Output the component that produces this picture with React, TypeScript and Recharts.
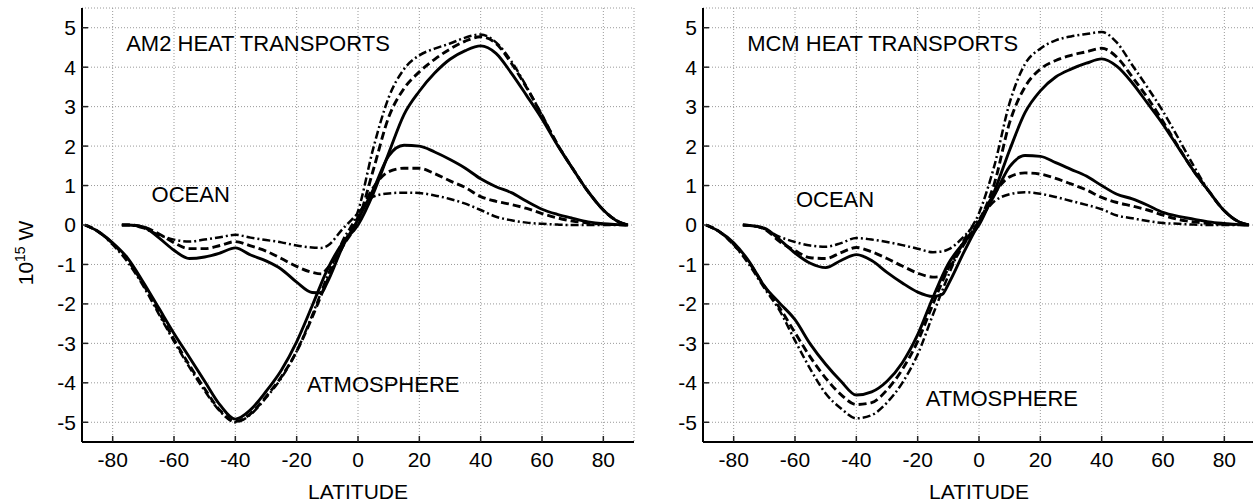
import React from 'react';
import { LineChart, Line, XAxis, YAxis, CartesianGrid, ReferenceDot } from 'recharts';

const FONT = '"Liberation Sans", Arial, Helvetica, sans-serif';

const xTicks = [-80, -60, -40, -20, 0, 20, 40, 60, 80];
const yTicks = [-5, -4, -3, -2, -1, 0, 1, 2, 3, 4, 5];

// latitudes (deg) the curves were read at
const atmLat = [-89, -85, -80, -75, -70, -65, -60, -55, -50, -45, -40, -35, -30, -25, -20, -15, -10, -5, 0, 5, 10, 15, 20, 25, 30, 35, 40, 45, 50, 55, 60, 65, 70, 75, 80, 85, 88];
const oceanLat = [-77, -75, -70, -65, -60, -55, -50, -45, -40, -35, -30, -25, -20, -15, -12, -10, -5, 0, 5, 10, 15, 20, 25, 30, 35, 40, 45, 50, 55, 60, 65, 70, 75, 80, 85, 88];

// AM2 panel, 10^15 W
const am2AtmSolid = [0, -0.15, -0.45, -0.85, -1.45, -2.1, -2.75, -3.35, -3.96, -4.56, -4.92, -4.68, -4.22, -3.68, -2.96, -2.06, -1.13, -0.45, 0, 0.8, 1.82, 2.8, 3.39, 3.85, 4.2, 4.42, 4.54, 4.35, 3.85, 3.28, 2.69, 2.03, 1.43, 0.85, 0.38, 0.08, 0];
const am2AtmDashed = [0, -0.15, -0.47, -0.9, -1.5, -2.2, -2.9, -3.55, -4.15, -4.7, -4.98, -4.78, -4.35, -3.85, -3.2, -2.35, -1.4, -0.55, 0.1, 1.4, 2.73, 3.46, 3.88, 4.2, 4.46, 4.66, 4.77, 4.6, 4.1, 3.48, 2.78, 2.05, 1.43, 0.85, 0.38, 0.08, 0];
const am2AtmDashDot = [0, -0.15, -0.5, -0.95, -1.55, -2.25, -2.95, -3.6, -4.2, -4.72, -5.0, -4.8, -4.38, -3.88, -3.2, -2.3, -1.3, -0.4, 0.35, 1.95, 3.23, 3.95, 4.3, 4.47, 4.6, 4.75, 4.83, 4.63, 4.15, 3.5, 2.78, 2.05, 1.43, 0.85, 0.38, 0.08, 0];
const am2OcnSolid = [0, 0, -0.05, -0.32, -0.64, -0.85, -0.81, -0.71, -0.58, -0.76, -0.91, -1.12, -1.45, -1.71, -1.72, -1.45, -0.55, 0.14, 0.9, 1.75, 2.02, 2.0, 1.85, 1.66, 1.44, 1.17, 0.97, 0.82, 0.6, 0.4, 0.27, 0.17, 0.08, 0.03, 0.01, 0];
const am2OcnDashed = [0, 0, -0.05, -0.22, -0.45, -0.6, -0.6, -0.52, -0.42, -0.53, -0.66, -0.85, -1.05, -1.2, -1.24, -1.1, -0.5, 0.2, 0.95, 1.35, 1.44, 1.44, 1.3, 1.12, 0.95, 0.72, 0.6, 0.52, 0.42, 0.29, 0.18, 0.1, 0.05, 0.02, 0.01, 0];
const am2OcnDashDot = [0, 0, -0.08, -0.25, -0.37, -0.42, -0.37, -0.31, -0.25, -0.32, -0.38, -0.44, -0.52, -0.57, -0.58, -0.53, -0.1, 0.3, 0.72, 0.8, 0.82, 0.81, 0.75, 0.66, 0.54, 0.38, 0.21, 0.12, 0.06, 0.03, 0.01, 0, 0, 0, 0, 0];

// MCM panel, 10^15 W
const mcmAtmSolid = [0, -0.15, -0.45, -0.92, -1.55, -1.98, -2.4, -3.02, -3.53, -3.96, -4.31, -4.23, -3.96, -3.49, -2.78, -1.83, -0.98, -0.45, 0, 0.85, 1.9, 2.85, 3.4, 3.75, 3.95, 4.1, 4.21, 4.02, 3.6, 3.08, 2.55, 1.96, 1.37, 0.85, 0.36, 0.07, 0];
const mcmAtmDashed = [0, -0.15, -0.5, -0.95, -1.55, -2.1, -2.73, -3.35, -3.88, -4.3, -4.55, -4.5, -4.18, -3.66, -2.95, -2.0, -1.1, -0.45, 0.1, 1.05, 2.6, 3.5, 3.95, 4.17, 4.3, 4.39, 4.48, 4.25, 3.75, 3.22, 2.62, 1.98, 1.37, 0.85, 0.36, 0.07, 0];
const mcmAtmDashDot = [0, -0.15, -0.5, -1.0, -1.6, -2.17, -2.93, -3.65, -4.27, -4.65, -4.9, -4.82, -4.5, -4.0, -3.28, -2.27, -1.28, -0.4, 0.3, 1.5, 3.1, 4.08, 4.47, 4.68, 4.78, 4.84, 4.89, 4.62, 4.05, 3.48, 2.88, 2.2, 1.5, 0.85, 0.36, 0.07, 0];
const mcmOcnSolid = [0, -0.01, -0.08, -0.37, -0.71, -0.97, -1.08, -0.9, -0.75, -0.9, -1.2, -1.47, -1.7, -1.81, -1.76, -1.5, -0.7, 0.05, 0.75, 1.48, 1.76, 1.74, 1.58, 1.41, 1.24, 1.0, 0.78, 0.66, 0.5, 0.32, 0.22, 0.15, 0.08, 0.04, 0.01, 0];
const mcmOcnDashed = [0, -0.01, -0.1, -0.42, -0.65, -0.83, -0.85, -0.7, -0.57, -0.68, -0.85, -1.04, -1.22, -1.32, -1.3, -1.12, -0.5, 0.1, 0.8, 1.22, 1.32, 1.29, 1.18, 1.04, 0.89, 0.7, 0.57, 0.48, 0.38, 0.25, 0.14, 0.08, 0.04, 0.02, 0.01, 0];
const mcmOcnDashDot = [0, -0.01, -0.1, -0.3, -0.43, -0.52, -0.55, -0.46, -0.33, -0.37, -0.43, -0.51, -0.6, -0.69, -0.67, -0.62, -0.3, 0.15, 0.6, 0.78, 0.83, 0.79, 0.71, 0.61, 0.51, 0.4, 0.24, 0.17, 0.1, 0.05, 0.03, 0.01, 0, 0, 0, 0];

const toPoints = (lats: number[], vals: number[]) => lats.map((lat, i) => ({ lat, v: vals[i] }));

// solid, dashed, dash-dot
const styles = [
  { dash: undefined, width: 2.9 },
  { dash: '8 4', width: 2.9 },
  { dash: '8 3 2 3', width: 2.5 },
];

const tickStyle = { fontSize: 21, fill: '#000', fontFamily: FONT };
const axisStroke = { stroke: '#000', strokeWidth: 2 };
const tickStroke = { stroke: '#222', strokeWidth: 1.5 };

const Note = (text: string) => (p: any) => (
  <text x={p.cx} y={p.cy} fontSize={22} fontFamily={FONT} fill="#000">
    {text}
  </text>
);

const YLabel = (props: any) => {
  const vb = props.viewBox;
  const x = vb.x + 33;
  const y = vb.y + vb.height / 2 + 28;
  return (
    <text x={x} y={y} transform={`rotate(-90 ${x} ${y})`} textAnchor="middle" fontSize={21} fontFamily={FONT} fill="#000">
      10<tspan fontSize={14} dy={-8}>15</tspan>
      <tspan dy={8}> W</tspan>
    </text>
  );
};

interface PanelProps {
  left: number;
  title: string;
  titleAt: [number, number];
  oceanAt: [number, number];
  atmAt: [number, number];
  atm: number[][];
  ocn: number[][];
  yLabel?: boolean;
}

const Panel: React.FC<PanelProps> = ({ left, title, titleAt, oceanAt, atmAt, atm, ocn, yLabel }) => (
  <div style={{ position: 'absolute', left, top: 0 }}>
    <LineChart width={640} height={503} margin={{ top: 8, right: 6, bottom: 0, left: 0 }}>
      <CartesianGrid stroke="#999" strokeDasharray="1 2" strokeWidth={1} />
      <XAxis
        dataKey="lat"
        type="number"
        domain={[-90, 90]}
        ticks={xTicks}
        allowDataOverflow
        height={61}
        tickSize={-6}
        tickMargin={16}
        tick={tickStyle}
        tickLine={tickStroke}
        axisLine={axisStroke}
        label={{ value: 'LATITUDE', position: 'insideBottom', offset: 4, fontSize: 21, fill: '#000', fontFamily: FONT }}
      />
      <XAxis xAxisId="top" orientation="top" type="number" domain={[-90, 90]} ticks={xTicks} height={0} tickSize={-6} tick={false} tickLine={tickStroke} axisLine={axisStroke} />
      <YAxis
        type="number"
        domain={[-5.5, 5.5]}
        ticks={yTicks}
        allowDataOverflow
        width={82}
        tickSize={-6}
        tickMargin={12}
        tick={tickStyle}
        tickLine={tickStroke}
        axisLine={axisStroke}
        label={yLabel ? YLabel : undefined}
      />
      <YAxis yAxisId="right" orientation="right" type="number" domain={[-5.5, 5.5]} ticks={yTicks} width={0} tickSize={-6} tick={false} tickLine={tickStroke} axisLine={axisStroke} />
      {atm.map((vals, i) => (
        <Line key={`a${i}`} data={toPoints(atmLat, vals)} dataKey="v" type="monotone" dot={false} stroke="#000" strokeWidth={styles[i].width} strokeDasharray={styles[i].dash} isAnimationActive={false} />
      ))}
      {ocn.map((vals, i) => (
        <Line key={`o${i}`} data={toPoints(oceanLat, vals)} dataKey="v" type="monotone" dot={false} stroke="#000" strokeWidth={styles[i].width} strokeDasharray={styles[i].dash} isAnimationActive={false} />
      ))}
      <ReferenceDot x={titleAt[0]} y={titleAt[1]} r={0} shape={Note(title)} />
      <ReferenceDot x={oceanAt[0]} y={oceanAt[1]} r={0} shape={Note('OCEAN')} />
      <ReferenceDot x={atmAt[0]} y={atmAt[1]} r={0} shape={Note('ATMOSPHERE')} />
    </LineChart>
  </div>
);

export default function App() {
  return (
    <div style={{ position: 'absolute', left: 0, top: 0, width: 1253, height: 503, overflow: 'hidden', background: '#fff' }}>
      <Panel
        left={0}
        title="AM2 HEAT TRANSPORTS"
        titleAt={[-75.6, 4.41]}
        oceanAt={[-67.3, 0.59]}
        atmAt={[-16.6, -4.23]}
        atm={[am2AtmSolid, am2AtmDashed, am2AtmDashDot]}
        ocn={[am2OcnSolid, am2OcnDashed, am2OcnDashDot]}
        yLabel
      />
      <Panel
        left={621}
        title="MCM HEAT TRANSPORTS"
        titleAt={[-75.6, 4.4]}
        oceanAt={[-59.7, 0.45]}
        atmAt={[-17.4, -4.6]}
        atm={[mcmAtmSolid, mcmAtmDashed, mcmAtmDashDot]}
        ocn={[mcmOcnSolid, mcmOcnDashed, mcmOcnDashDot]}
      />
    </div>
  );
}
